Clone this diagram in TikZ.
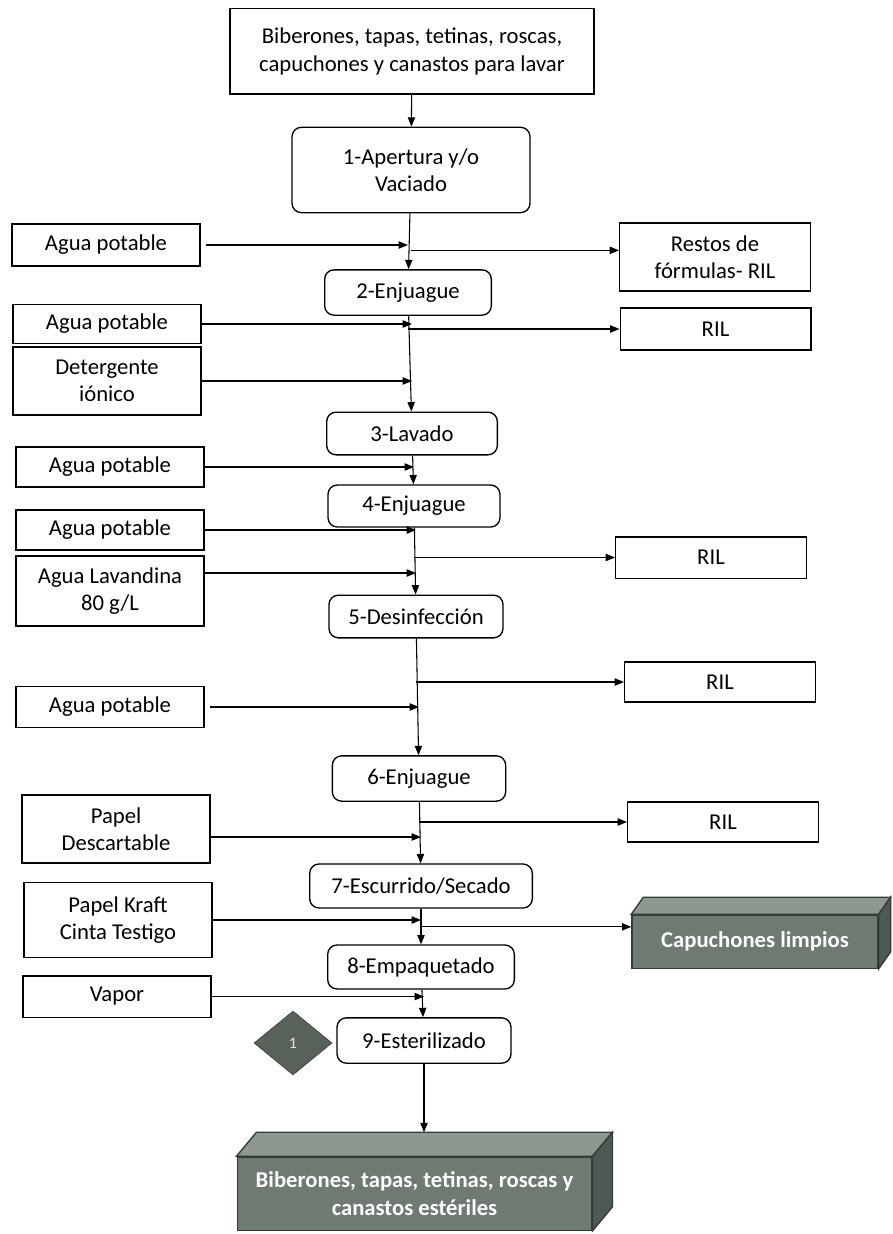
\documentclass[tikz,border=0pt]{standalone}
\usepackage{fontspec}
\setmainfont{Carlito}
\usetikzlibrary{arrows.meta,calc,shapes.geometric}
\definecolor{slate}{HTML}{6E7A72}
\definecolor{slatetop}{HTML}{8D9890}
\definecolor{slateside}{HTML}{4F5953}
\definecolor{slateedge}{HTML}{343B37}
\tikzset{etapa/.style={draw,rounded corners=7pt,line width=1pt,align=center,font=\fontsize{17}{20.5}\selectfont,inner sep=2pt}, insumo/.style={draw,line width=1pt,align=center,font=\fontsize{17}{20.5}\selectfont,inner sep=2pt,minimum width=141pt}, residuo/.style={insumo,minimum width=143pt}, solido/.style={draw=slateedge,fill=slate,line width=1pt,text=white,align=center,font=\fontsize{17}{20.5}\selectfont\bfseries,inner sep=2pt}, rombo/.style={diamond,aspect=1.22,draw=slateedge,fill=slate!80!black,text=white!80!gray,minimum width=58.5pt,minimum height=48pt,inner sep=0pt,font=\fontsize{12}{14}\selectfont}, flow/.style={-{Triangle[length=7pt,width=5.5pt]},line width=0.8pt}}

\begin{document}
\begin{tikzpicture}[x=0.75pt,y=-0.75pt]
\useasboundingbox (0,0) rectangle (892,1234);
% main line
\node[insumo,minimum width=273pt,minimum height=64pt] (top) at (412,51.5) {Biberones, tapas, tetinas, roscas,\\capuchones y canastos para lavar};
\node[etapa,minimum width=178.5pt,minimum height=64pt] (s1) at (411,170) {1-Apertura y/o\\Vaciado};
\node[etapa,minimum width=125pt,minimum height=34pt] (s2) at (408,292.5) {2-Enjuague};
\node[etapa,minimum width=128pt,minimum height=32pt] (s3) at (412,433.5) {3-Lavado};
\node[etapa,minimum width=129pt,minimum height=31.5pt] (s4) at (414,506) {4-Enjuague};
\node[etapa,minimum width=130.5pt,minimum height=32pt] (s5) at (416,616.5) {5-Desinfección};
\node[etapa,minimum width=130pt,minimum height=34pt] (s6) at (419,778.5) {6-Enjuague};
\node[etapa,minimum width=167pt,minimum height=33pt] (s7) at (421,886) {7-Escurrido/Secado};
\node[etapa,minimum width=140pt,minimum height=33pt] (s8) at (421,967) {8-Empaquetado};
\node[etapa,minimum width=130.5pt,minimum height=34pt] (s9) at (424,1040.5) {9-Esterilizado};
\node[rombo] (d1) at (293,1043) {1};
\node[solido,minimum width=266pt,minimum height=55pt] (fin) at (414.5,1193.5) {Biberones, tapas, tetinas, roscas y\\canastos estériles};
\draw[slateedge,fill=slatetop,line width=1pt] (fin.north west) -- ++(20,-24) -- ($(fin.north east)+(20,-24)$) -- (fin.north east) -- cycle;
\draw[slateedge,fill=slateside,line width=1pt] (fin.north east) -- ++(20,-24) -- ($(fin.south east)+(20,-24)$) -- (fin.south east) -- cycle;

% inputs
\node[insumo,minimum height=31.5pt] (in1) at (106,245) {Agua potable};
\node[insumo,minimum height=29pt] (in2) at (107,324) {Agua potable};
\node[insumo,minimum height=51pt] (in3) at (107,381) {Detergente\\iónico};
\node[insumo,minimum height=30pt] (in4) at (110,467) {Agua potable};
\node[insumo,minimum height=30pt] (in5) at (110,530) {Agua potable};
\node[insumo,minimum height=52.5pt] (in6) at (110,591) {Agua Lavandina\\80 g/L};
\node[insumo,minimum height=31pt] (in7) at (110,707) {Agua potable};
\node[insumo,minimum height=51pt] (in8) at (116,829) {Papel\\Descartable};
\node[insumo,minimum height=56pt] (in9) at (118,920) {Papel Kraft\\Cinta Testigo};
\node[insumo,minimum height=31pt] (in10) at (117,996.5) {Vapor};

% outputs
\node[residuo,minimum height=51pt] (o1) at (715,257) {Restos de\\fórmulas- RIL};
\node[residuo,minimum height=31.5pt] (o2) at (715.5,329) {RIL};
\node[residuo,minimum height=31pt] (o3) at (711,557.5) {RIL};
\node[residuo,minimum height=30pt] (o4) at (720,682) {RIL};
\node[residuo,minimum height=30pt] (o5) at (723,822) {RIL};
\node[solido,minimum width=184.5pt,minimum height=40pt] (o6) at (755,941.5) {Capuchones limpios};
\draw[slateedge,fill=slatetop,line width=1pt] (o6.north west) -- ++(12,-17) -- ($(o6.north east)+(12,-17)$) -- (o6.north east) -- cycle;
\draw[slateedge,fill=slateside,line width=1pt] (o6.north east) -- ++(12,-17) -- ($(o6.south east)+(12,-17)$) -- (o6.south east) -- cycle;

% flow
\draw[flow] (top) -- (s1);
\draw[flow] (s1) -- (s2);
\draw[flow] (s2) -- (s3);
\draw[flow] (s3) -- (s4);
\draw[flow] (s4) -- (s5);
\draw[flow] (s5) -- (s6);
\draw[flow] (s6) -- (s7);
\draw[flow] (s7) -- (s8);
\draw[flow] (s8) -- (s9);
\draw[flow] (s9.south) -- ($(s9.south |- fin.north)+(0,-24)$);

\draw[flow] ([xshift=4pt]in1.east) -- (in1.east -| s2.north);
\draw[flow] (in2.east) -- (in2.east -| s3.north);
\draw[flow] (in3.east) -- (in3.east -| s3.north);
\draw[flow] (in4.east) -- (in4.east -| s4.north);
\draw[flow] (in5.east) -- (in5.east -| s5.north);
\draw[flow] ([yshift=13.5pt]in6.east) -- ([yshift=13.5pt]in6.east -| s5.north);
\draw[flow] ([xshift=4pt]in7.east) -- (in7.east -| s6.north);
\draw[flow] ([yshift=-6pt]in8.east) -- ([yshift=-6pt]in8.east -| s7.north);
\draw[flow] (in9.east) -- (in9.east -| s8.north);
\draw[flow] (in10.east) -- (in10.east -| s9.north);

\draw[flow] ([yshift=5pt]o1.west -| s1.south) -- ([yshift=5pt]o1.west);
\draw[flow] (o2.west -| s2.south) -- (o2.west);
\draw[flow] (o3.west -| s4.south) -- (o3.west);
\draw[flow] (o4.west -| s5.south) -- (o4.west);
\draw[flow] (o5.west -| s6.south) -- (o5.west);
\draw[flow] ([yshift=11pt]o6.west -| s7.south) -- ([yshift=11pt]o6.west);
\end{tikzpicture}
\end{document}
